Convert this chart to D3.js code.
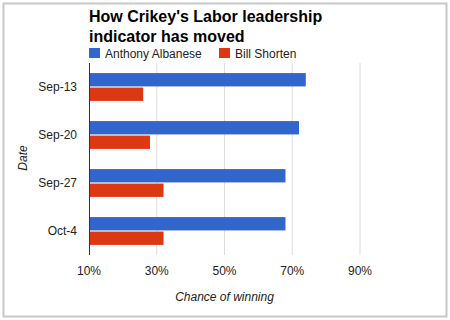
<!DOCTYPE html>
<html>
<head>
<meta charset="utf-8">
<script src="https://cdn.jsdelivr.net/npm/d3@7"></script>
<style>
  body { margin: 0; background: #fff; }
  text { font-family: Arial, "Liberation Sans", sans-serif; }
</style>
</head>
<body>
<div id="chart"></div>
<script>
// chart data
let dates = ["Sep-13", "Sep-20", "Sep-27", "Oct-4"]
let albanese = [74, 72, 68, 68]
let shorten = [26, 28, 32, 32]
let seriesNames = ["Anthony Albanese", "Bill Shorten"]
let xTicks = [10, 30, 50, 70, 90]

let colors = ["#3366cc", "#dc3912"]

let svg = d3.select("#chart")
  .append("svg")
  .attr("width", 450)
  .attr("height", 320)

// outer frame
svg.append("rect")
  .attr("x", 3.5).attr("y", 3.5)
  .attr("width", 443).attr("height", 313)
  .style("fill", "#fff")
  .style("stroke", "#c8c8c8")
  .style("stroke-width", 2)

let plotLeft = 89, plotRight = 360, plotTop = 63, plotBottom = 255

let x = d3.scaleLinear().domain([10, 90]).range([plotLeft, plotRight])
let y = d3.scaleBand().domain(dates).range([plotTop, plotBottom]).paddingInner(0.42).paddingOuter(0.21)
let ySub = d3.scaleBand().domain([0, 1]).range([0, y.bandwidth()]).paddingInner(0.08)

// gridlines
svg.selectAll("line.grid")
  .data(xTicks.slice(1))
  .enter()
  .append("line")
  .attr("x1", d => x(d)).attr("x2", d => x(d))
  .attr("y1", plotTop).attr("y2", plotBottom)
  .style("stroke", "#dcdcdc")
  .style("stroke-width", 1)

let rows = dates.map((d, i) => ({date: d, values: [albanese[i], shorten[i]]}))

let groups = svg.selectAll("g.row")
  .data(rows)
  .enter()
  .append("g")
  .attr("transform", d => "translate(0," + y(d.date) + ")")

groups.selectAll("rect")
  .data(d => d.values)
  .enter()
  .append("rect")
  .attr("x", x(10))
  .attr("y", (d, i) => ySub(i))
  .attr("width", d => x(d) - x(10))
  .attr("height", ySub.bandwidth())
  .style("fill", (d, i) => colors[i])

// axis line
svg.append("line")
  .attr("x1", plotLeft + 0.5).attr("x2", plotLeft + 0.5)
  .attr("y1", plotTop).attr("y2", plotBottom)
  .style("stroke", "#333")
  .style("stroke-width", 1)

// category labels
svg.selectAll("text.cat")
  .data(dates)
  .enter()
  .append("text")
  .attr("x", 77)
  .attr("y", d => y(d) + y.bandwidth() / 2 + 4)
  .attr("text-anchor", "end")
  .style("font-size", "12px")
  .style("fill", "#222")
  .text(d => d)

// x tick labels
svg.selectAll("text.tick")
  .data(xTicks)
  .enter()
  .append("text")
  .attr("x", d => x(d))
  .attr("y", 275)
  .attr("text-anchor", "middle")
  .style("font-size", "12px")
  .style("fill", "#222")
  .text(d => d + "%")

// axis titles
svg.append("text")
  .attr("x", x(50))
  .attr("y", 301)
  .attr("text-anchor", "middle")
  .style("font-size", "12px")
  .style("font-style", "italic")
  .style("fill", "#222")
  .text("Chance of winning")

svg.append("text")
  .attr("transform", "translate(27,158) rotate(-90)")
  .attr("text-anchor", "middle")
  .style("font-size", "12px")
  .style("font-style", "italic")
  .style("fill", "#222")
  .text("Date")

// title
let title = ["How Crikey's Labor leadership", "indicator has moved"]
svg.selectAll("text.title")
  .data(title)
  .enter()
  .append("text")
  .attr("x", plotLeft)
  .attr("y", (d, i) => 22 + i * 20)
  .style("font-size", "16px")
  .style("font-weight", "bold")
  .style("fill", "#000")
  .text(d => d)

// legend
let legendX = [89, 219]
let legend = svg.selectAll("g.legend")
  .data(seriesNames)
  .enter()
  .append("g")
  .attr("transform", (d, i) => "translate(" + legendX[i] + ",48)")

legend.append("rect")
  .attr("width", 11).attr("height", 10)
  .style("fill", (d, i) => colors[i])

legend.append("text")
  .attr("x", 16)
  .attr("y", 9.5)
  .style("font-size", "12px")
  .style("fill", "#222")
  .text(d => d)
</script>
</body>
</html>
